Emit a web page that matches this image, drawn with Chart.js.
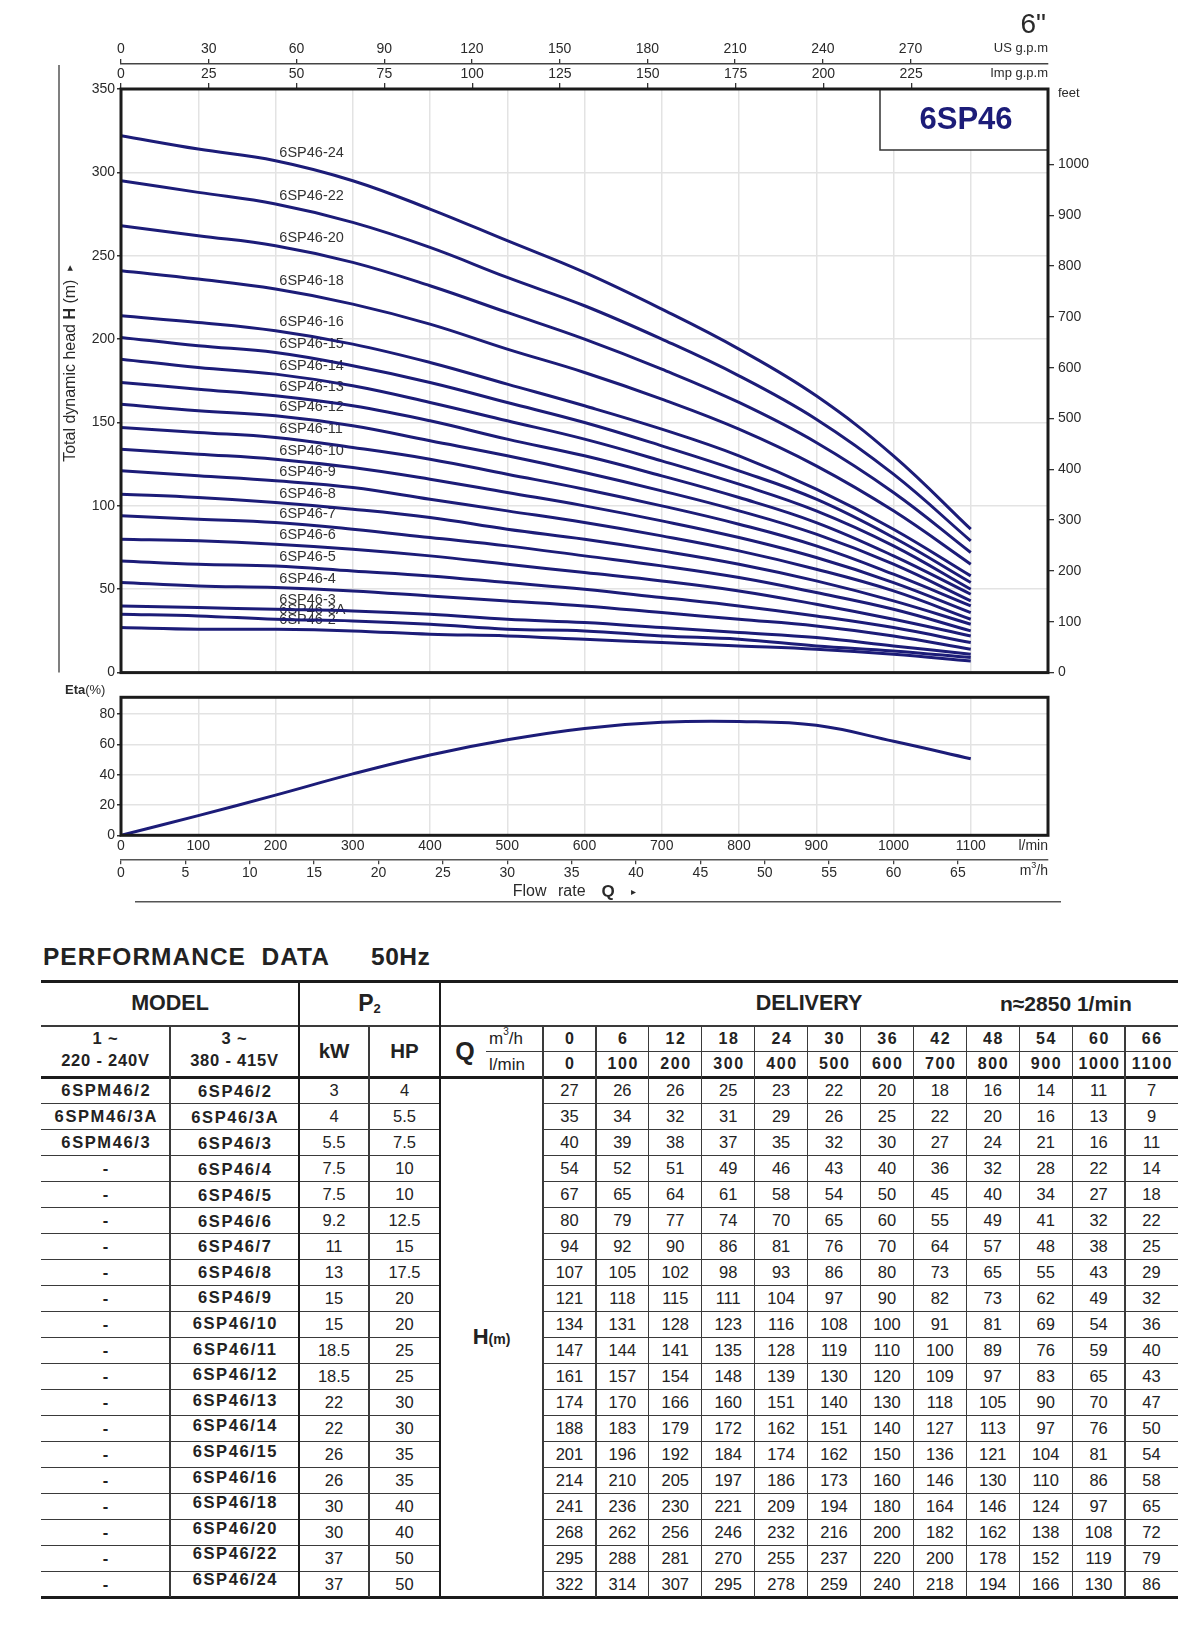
<!DOCTYPE html>
<html>
<head>
<meta charset="utf-8">
<title>6SP46 performance curves</title>
<script src="https://cdn.jsdelivr.net/npm/chart.js@4.4.1/dist/chart.umd.min.js"></script>
<style>
html,body{margin:0;padding:0;background:#fff;}
body{width:1200px;height:1633px;position:relative;overflow:hidden;font-family:'Liberation Sans',Arial,Helvetica,sans-serif;color:#222;}
canvas{position:absolute;left:0;}
#headChart{top:0;}
#etaChart{top:678px;}
.c{position:absolute;display:flex;align-items:center;justify-content:center;white-space:nowrap;line-height:1;color:#222;}
.ln{position:absolute;}
sup.s3{font-size:10px;position:relative;top:-7px;vertical-align:baseline;}
</style>
</head>
<body>
<canvas id="headChart" width="1200" height="685" style="width:1200px;height:685px"></canvas>
<canvas id="etaChart" width="1200" height="232" style="width:1200px;height:232px"></canvas>
<div id="perf"></div>
<script>
// ---------------- DATA ----------------
const flowLmin = [0, 100, 200, 300, 400, 500, 600, 700, 800, 900, 1000, 1100];
const flowM3h  = [0, 6, 12, 18, 24, 30, 36, 42, 48, 54, 60, 66];
const model1ph = ['6SPM46/2', '6SPM46/3A', '6SPM46/3', '-', '-', '-', '-', '-', '-', '-',
                  '-', '-', '-', '-', '-', '-', '-', '-', '-', '-'];
const model3ph = ['6SP46/2', '6SP46/3A', '6SP46/3', '6SP46/4', '6SP46/5', '6SP46/6', '6SP46/7',
                  '6SP46/8', '6SP46/9', '6SP46/10', '6SP46/11', '6SP46/12', '6SP46/13', '6SP46/14',
                  '6SP46/15', '6SP46/16', '6SP46/18', '6SP46/20', '6SP46/22', '6SP46/24'];
const powerKW = [3, 4, 5.5, 7.5, 7.5, 9.2, 11, 13, 15, 15, 18.5, 18.5, 22, 22, 26, 26, 30, 30, 37, 37];
const powerHP = [4, 5.5, 7.5, 10, 10, 12.5, 15, 17.5, 20, 20, 25, 25, 30, 30, 35, 35, 40, 40, 50, 50];
const heads = [
  [27, 26, 26, 25, 23, 22, 20, 18, 16, 14, 11, 7],
  [35, 34, 32, 31, 29, 26, 25, 22, 20, 16, 13, 9],
  [40, 39, 38, 37, 35, 32, 30, 27, 24, 21, 16, 11],
  [54, 52, 51, 49, 46, 43, 40, 36, 32, 28, 22, 14],
  [67, 65, 64, 61, 58, 54, 50, 45, 40, 34, 27, 18],
  [80, 79, 77, 74, 70, 65, 60, 55, 49, 41, 32, 22],
  [94, 92, 90, 86, 81, 76, 70, 64, 57, 48, 38, 25],
  [107, 105, 102, 98, 93, 86, 80, 73, 65, 55, 43, 29],
  [121, 118, 115, 111, 104, 97, 90, 82, 73, 62, 49, 32],
  [134, 131, 128, 123, 116, 108, 100, 91, 81, 69, 54, 36],
  [147, 144, 141, 135, 128, 119, 110, 100, 89, 76, 59, 40],
  [161, 157, 154, 148, 139, 130, 120, 109, 97, 83, 65, 43],
  [174, 170, 166, 160, 151, 140, 130, 118, 105, 90, 70, 47],
  [188, 183, 179, 172, 162, 151, 140, 127, 113, 97, 76, 50],
  [201, 196, 192, 184, 174, 162, 150, 136, 121, 104, 81, 54],
  [214, 210, 205, 197, 186, 173, 160, 146, 130, 110, 86, 58],
  [241, 236, 230, 221, 209, 194, 180, 164, 146, 124, 97, 65],
  [268, 262, 256, 246, 232, 216, 200, 182, 162, 138, 108, 72],
  [295, 288, 281, 270, 255, 237, 220, 200, 178, 152, 119, 79],
  [322, 314, 307, 295, 278, 259, 240, 218, 194, 166, 130, 86]
];
const efficiency = [0, 13, 26.5, 40.5, 53, 63, 70.5, 74.5, 75, 72.5, 62, 50.5];

const headTicks   = [0, 50, 100, 150, 200, 250, 300, 350];
const feetTicks   = [0, 100, 200, 300, 400, 500, 600, 700, 800, 900, 1000];
const usGpmTicks  = [0, 30, 60, 90, 120, 150, 180, 210, 240, 270];
const impGpmTicks = [0, 25, 50, 75, 100, 125, 150, 175, 200, 225];
const lminTicks   = [0, 100, 200, 300, 400, 500, 600, 700, 800, 900, 1000, 1100];
const m3hTicks    = [0, 5, 10, 15, 20, 25, 30, 35, 40, 45, 50, 55, 60, 65];
const etaGridTicks  = [0, 10, 20, 30, 40, 50, 60, 70, 80, 90];
const etaLabelTicks = [0, 20, 40, 60, 80];

// ---------------- STYLE ----------------
const FONT = "'Liberation Sans', Arial, Helvetica, sans-serif";
const INK = '#2a2a2a';
const NAVY = '#1c1c78';
const GRID = '#e3e3e3';
const US_GAL = 3.785411784, IMP_GAL = 4.54609, FOOT = 0.3048;
const Q_MAX = 1200, H_MAX = 350, ETA_MAX = 91;
const LABEL_Q = 205;

Chart.defaults.font.family = FONT;
Chart.defaults.color = INK;

const fixed = arr => scale => { scale.ticks = arr.map(v => ({ value: v })); };
const plain = v => String(v);
const tf = { family: FONT, size: 14 };

function interp(points, q) {
  for (let i = 1; i < points.length; i++) {
    if (q <= points[i].x) {
      const a = points[i - 1], b = points[i];
      return a.y + (b.y - a.y) * (q - a.x) / (b.x - a.x);
    }
  }
  return points[points.length - 1].y;
}

function richText(ctx, parts, x, y, align) {
  let total = 0;
  parts.forEach(p => { ctx.font = p.f; total += ctx.measureText(p.t).width; });
  let cx = align === 'center' ? x - total / 2 : (align === 'right' ? x - total : x);
  ctx.textAlign = 'left';
  parts.forEach(p => { ctx.font = p.f; ctx.fillText(p.t, cx, y + (p.dy || 0)); cx += ctx.measureText(p.t).width; });
}

const framePlugin = {
  id: 'frame',
  afterDatasetsDraw(chart) {
    const a = chart.chartArea, ctx = chart.ctx;
    ctx.save();
    ctx.lineWidth = 3;
    ctx.strokeStyle = '#1b1b1b';
    ctx.strokeRect(a.left, a.top, a.right - a.left, a.bottom - a.top);
    ctx.restore();
  }
};

// ---------------- HEAD CHART ----------------
const curveNames = model3ph.map(m => m.replace('/', '-'));
const headDatasets = heads.map((row, i) => ({
  label: curveNames[i],
  data: row.map((h, j) => ({ x: flowLmin[j], y: h })),
  borderColor: NAVY,
  borderWidth: 3,
  pointRadius: 0,
  fill: false,
  tension: 0.4
}));

const headDecor = {
  id: 'headDecor',
  beforeDatasetsDraw(chart) {
    const { ctx, chartArea: a, scales: { x, y } } = chart;
    ctx.save();
    // model box
    const bl = a.right - 168, bb = a.top + 61;
    ctx.fillStyle = '#fff';
    ctx.fillRect(bl, a.top, a.right - bl, bb - a.top);
    ctx.strokeStyle = '#333';
    ctx.lineWidth = 1.5;
    ctx.beginPath();
    ctx.moveTo(bl, a.top); ctx.lineTo(bl, bb); ctx.lineTo(a.right, bb);
    ctx.stroke();
    ctx.fillStyle = NAVY;
    ctx.font = `bold 31px ${FONT}`;
    ctx.textAlign = 'center';
    ctx.textBaseline = 'middle';
    ctx.fillText('6SP46', (bl + a.right) / 2 + 2, (a.top + bb) / 2 + 1);
    // curve labels
    ctx.font = `14.5px ${FONT}`;
    ctx.fillStyle = '#333';
    ctx.textAlign = 'left';
    const lx = x.getPixelForValue(LABEL_Q);
    chart.data.datasets.forEach(ds => {
      const py = y.getPixelForValue(interp(ds.data, LABEL_Q)) - 9;
      ctx.fillText(ds.label, lx, py);
    });
    ctx.restore();
  },
  afterDraw(chart) {
    const { ctx, chartArea: a } = chart;
    ctx.save();
    ctx.fillStyle = INK;
    ctx.textBaseline = 'alphabetic';
    ctx.textAlign = 'right';
    ctx.font = `28px ${FONT}`;
    ctx.fillText('6"', a.right - 2, 33);
    ctx.textBaseline = 'middle';
    ctx.font = `13px ${FONT}`;
    ctx.fillText('US g.p.m', a.right, 48);
    ctx.fillText('Imp g.p.m', a.right, 73);
    ctx.textAlign = 'left';
    ctx.fillText('feet', a.right + 10, 93);
    // left guide line
    ctx.strokeStyle = '#555';
    ctx.lineWidth = 1.5;
    ctx.beginPath();
    ctx.moveTo(59, 65); ctx.lineTo(59, a.bottom);
    ctx.stroke();
    // rotated axis title
    ctx.translate(70.5, 363.5);
    ctx.rotate(-Math.PI / 2);
    ctx.textBaseline = 'middle';
    richText(ctx, [
      { t: 'Total dynamic head ', f: `16px ${FONT}` },
      { t: 'H', f: `bold 16px ${FONT}` },
      { t: ' (m)  ', f: `16px ${FONT}` },
      { t: '\u25B8', f: `11px 'DejaVu Sans', ${FONT}` }
    ], 0, 0, 'center');
    ctx.restore();
  }
};

new Chart(document.getElementById('headChart'), {
  type: 'line',
  data: { datasets: headDatasets },
  options: {
    responsive: false,
    animation: false,
    events: [],
    layout: { padding: { left: 59, right: 92, top: 40, bottom: 12 } },
    plugins: { legend: { display: false }, tooltip: { enabled: false } },
    scales: {
      x: {
        type: 'linear', position: 'bottom', min: 0, max: Q_MAX,
        afterBuildTicks: fixed(lminTicks),
        ticks: { display: false },
        grid: { color: GRID, lineWidth: 1.5, drawTicks: false },
        border: { display: false },
        afterFit: s => { s.height = 0; }
      },
      xus: {
        type: 'linear', position: 'top', weight: 2, min: 0, max: Q_MAX / US_GAL,
        afterBuildTicks: fixed(usGpmTicks),
        ticks: { font: tf, color: INK, padding: 1, maxRotation: 0, autoSkip: false, callback: plain },
        grid: { drawOnChartArea: false, tickLength: 5, tickColor: '#333', lineWidth: 1.3 },
        border: { display: true, color: '#444', width: 1.5 },
        afterFit: s => { s.height = 24; }
      },
      ximp: {
        type: 'linear', position: 'top', weight: 1, min: 0, max: Q_MAX / IMP_GAL,
        afterBuildTicks: fixed(impGpmTicks),
        ticks: { font: tf, color: INK, padding: 0, maxRotation: 0, autoSkip: false, callback: plain },
        grid: { drawOnChartArea: false, tickLength: 6, tickColor: '#333', lineWidth: 1.3 },
        border: { display: false },
        afterFit: s => { s.height = 25; }
      },
      y: {
        type: 'linear', position: 'left', min: 0, max: H_MAX,
        afterBuildTicks: fixed(headTicks),
        ticks: { font: tf, color: INK, padding: 2, callback: plain },
        grid: { color: GRID, lineWidth: 1.5, tickLength: 4, tickColor: '#333' },
        border: { display: false },
        afterFit: s => { s.width = 62; }
      },
      yft: {
        type: 'linear', position: 'right', min: 0, max: H_MAX / FOOT,
        afterBuildTicks: fixed(feetTicks),
        ticks: { font: tf, color: INK, padding: 4, callback: plain },
        grid: { drawOnChartArea: false, tickLength: 6, tickColor: '#333', lineWidth: 1.3 },
        border: { display: false },
        afterFit: s => { s.width = 60; }
      }
    }
  },
  plugins: [headDecor, framePlugin]
});

// ---------------- EFFICIENCY CHART ----------------
const etaDecor = {
  id: 'etaDecor',
  afterDraw(chart) {
    const { ctx, chartArea: a } = chart;
    ctx.save();
    ctx.fillStyle = INK;
    ctx.textBaseline = 'middle';
    richText(ctx, [
      { t: 'Eta', f: `bold 13px ${FONT}` },
      { t: '(%)', f: `13px ${FONT}` }
    ], 65, 12, 'left');
    ctx.textAlign = 'right';
    ctx.font = `14px ${FONT}`;
    ctx.fillText('l/min', a.right, 168);
    richText(ctx, [
      { t: 'm', f: `14px ${FONT}` },
      { t: '3', f: `9px ${FONT}`, dy: -5 },
      { t: '/h', f: `14px ${FONT}` }
    ], a.right, 193, 'right');
    // flow rate title
    ctx.textAlign = 'left';
    ctx.font = `16px ${FONT}`;
    ctx.fillText('Flow', 512.7, 214);
    ctx.fillText('rate', 558, 214);
    ctx.font = `bold 17px ${FONT}`;
    ctx.fillText('Q', 601.5, 214);
    ctx.font = `10px 'DejaVu Sans', ${FONT}`;
    ctx.fillText('\u25B8', 631, 214);
    ctx.strokeStyle = '#555';
    ctx.lineWidth = 1.5;
    ctx.beginPath();
    ctx.moveTo(135, 223.7); ctx.lineTo(1061, 223.7);
    ctx.stroke();
    ctx.restore();
  }
};

new Chart(document.getElementById('etaChart'), {
  type: 'line',
  data: {
    datasets: [{
      label: 'Eta',
      data: efficiency.map((e, j) => ({ x: flowLmin[j], y: e })),
      borderColor: NAVY,
      borderWidth: 3,
      pointRadius: 0,
      fill: false,
      tension: 0.4
    }]
  },
  options: {
    responsive: false,
    animation: false,
    events: [],
    layout: { padding: { left: 59, right: 152, top: 19.3, bottom: 22.7 } },
    plugins: { legend: { display: false }, tooltip: { enabled: false } },
    scales: {
      x: {
        type: 'linear', position: 'bottom', weight: 0, min: 0, max: Q_MAX,
        afterBuildTicks: fixed(lminTicks),
        ticks: { font: tf, color: INK, padding: 2, maxRotation: 0, autoSkip: false, callback: plain },
        grid: { color: GRID, lineWidth: 1.5, drawTicks: false },
        border: { display: false },
        afterFit: s => { s.height = 24; }
      },
      xm3: {
        type: 'linear', position: 'bottom', weight: 1, min: 0, max: Q_MAX * 0.06,
        afterBuildTicks: fixed(m3hTicks),
        ticks: { font: tf, color: INK, padding: 0, maxRotation: 0, autoSkip: false, callback: plain },
        grid: { drawOnChartArea: false, tickLength: 5, tickColor: '#444', lineWidth: 1.3 },
        border: { display: true, color: '#555', width: 1.5 },
        afterFit: s => { s.height = 28; }
      },
      y: {
        type: 'linear', position: 'left', min: 0, max: ETA_MAX,
        afterBuildTicks: fixed(etaGridTicks),
        ticks: { font: tf, color: INK, padding: 2, callback: v => etaLabelTicks.includes(v) ? String(v) : '' },
        grid: { color: GRID, lineWidth: 1.5, tickLength: 4, tickColor: '#333' },
        border: { display: false },
        afterFit: s => { s.width = 62; }
      }
    }
  },
  plugins: [etaDecor, framePlugin]
});

// ---------------- PERFORMANCE TABLE ----------------
const perf = document.getElementById('perf');
function cell(x, y, w, h, html, css) {
  const d = document.createElement('div');
  d.className = 'c';
  d.style.cssText = `left:${x}px;top:${y}px;width:${w}px;height:${h}px;${css || ''}`;
  d.innerHTML = html;
  perf.appendChild(d);
}
function hrule(x1, x2, y, t, c) {
  const d = document.createElement('div');
  d.className = 'ln';
  d.style.cssText = `left:${x1}px;top:${y - t / 2}px;width:${x2 - x1}px;height:${t}px;background:${c};`;
  perf.appendChild(d);
}
function vrule(x, y1, y2, t, c) {
  const d = document.createElement('div');
  d.className = 'ln';
  d.style.cssText = `left:${x - t / 2}px;top:${y1}px;width:${t}px;height:${y2 - y1}px;background:${c};`;
  perf.appendChild(d);
}

// title
cell(43, 940, 300, 34, 'PERFORMANCE&nbsp;&nbsp;DATA', 'justify-content:flex-start;font-weight:bold;font-size:24.5px;letter-spacing:1px;');
cell(371, 940, 80, 34, '50Hz', 'justify-content:flex-start;font-weight:bold;font-size:24.5px;letter-spacing:0.5px;');

const TL = 41, TRT = 1178;
const C1 = 170, C2 = 299, C3 = 369, C4 = 440, C5 = 543;
const DW = (TRT - C5) / flowLmin.length;
const Y0 = 981.5, Y1 = 1026, YM = 1051.7, Y2 = 1077.3, RH = 26;
const YB = Y2 + RH * heads.length;
const THICK = '#1b1b1b', THIN = '#3a3a3a';

const bigBold = 'font-weight:bold;font-size:21.5px;';
const modelCss = 'font-weight:bold;font-size:16.5px;letter-spacing:1.6px;padding-left:1.6px;box-sizing:border-box;';
const numCss = 'font-size:16.5px;';
const headNumCss = 'font-weight:bold;font-size:16px;letter-spacing:1.6px;padding-left:1.6px;box-sizing:border-box;';

// header row 1
cell(TL, Y0, C2 - TL, Y1 - Y0, 'MODEL', bigBold);
cell(C2, Y0, C4 - C2, Y1 - Y0,
  '<span style="font-weight:bold;font-size:23px">P</span><span style="font-weight:bold;font-size:13px;position:relative;top:5px">2</span>');
cell(C4, Y0, TRT - C4, Y1 - Y0, 'DELIVERY', bigBold);
cell(1000, Y0, 170, Y1 - Y0, 'n\u22482850 1/min', 'justify-content:flex-start;font-weight:bold;font-size:21px;');

// header row 2
const hb = 'font-weight:bold;font-size:16.5px;letter-spacing:0.8px;';
cell(TL, 1029, C1 - TL, 18, '1 ~', hb);
cell(TL, 1051, C1 - TL, 18, '220 - 240V', hb);
cell(C1, 1029, C2 - C1, 18, '3 ~', hb);
cell(C1, 1051, C2 - C1, 18, '380 - 415V', hb);
cell(C2, Y1, C3 - C2, Y2 - Y1, 'kW', 'font-weight:bold;font-size:20.5px;');
cell(C3, Y1, C4 - C3, Y2 - Y1, 'HP', 'font-weight:bold;font-size:20.5px;');
cell(450, Y1, 30, Y2 - Y1, 'Q', 'font-weight:bold;font-size:25px;');
cell(486, Y1, C5 - 486, YM - Y1, 'm<sup class="s3">3</sup>/h', 'justify-content:flex-start;padding-left:3px;box-sizing:border-box;font-size:17px;');
cell(486, YM, C5 - 486, Y2 - YM, 'l/min', 'justify-content:flex-start;padding-left:3px;box-sizing:border-box;font-size:17px;');
flowM3h.forEach((v, j) => cell(C5 + DW * j, Y1, DW, YM - Y1, String(v), headNumCss));
flowLmin.forEach((v, j) => cell(C5 + DW * j, YM, DW, Y2 - YM, String(v), headNumCss));

// H(m) merged column
cell(C4, Y2, C5 - C4, YB - Y2,
  '<span style="font-weight:bold;font-size:22px">H</span><span style="font-weight:bold;font-size:14px;position:relative;top:2px">(m)</span>');

// data rows
heads.forEach((row, i) => {
  const y = Y2 + RH * i;
  const shift = Math.min(1, 1 - (i - 4) * 0.4);
  cell(TL, y, C1 - TL, RH, model1ph[i], modelCss);
  cell(C1, y + shift, C2 - C1, RH, model3ph[i], modelCss);
  cell(C2, y, C3 - C2, RH, String(powerKW[i]), numCss);
  cell(C3, y, C4 - C3, RH, String(powerHP[i]), numCss);
  row.forEach((v, j) => cell(C5 + DW * j, y, DW, RH, String(v), numCss));
});

// rules
hrule(TL, TRT, Y0, 3, THICK);
hrule(TL, TRT, Y1, 1.3, THIN);
hrule(486, TRT, YM, 1.3, THIN);
hrule(TL, TRT, Y2, 3, THICK);
for (let k = 1; k < heads.length; k++) {
  const y = Y2 + RH * k;
  hrule(TL, C4, y, 1.3, THIN);
  hrule(C5, TRT, y, 1.3, THIN);
}
hrule(TL, TRT, YB, 3, THICK);
vrule(C2, Y0, YB, 2.5, THICK);
vrule(C4, Y0, YB, 2.5, THICK);
vrule(C1, Y1, YB, 1.3, THIN);
vrule(C3, Y1, YB, 1.3, THIN);
vrule(C5, Y1, YB, 1.3, THIN);
for (let j = 1; j < flowLmin.length; j++) vrule(C5 + DW * j, Y1, YB, 1.3, THIN);
</script>
</body>
</html>
